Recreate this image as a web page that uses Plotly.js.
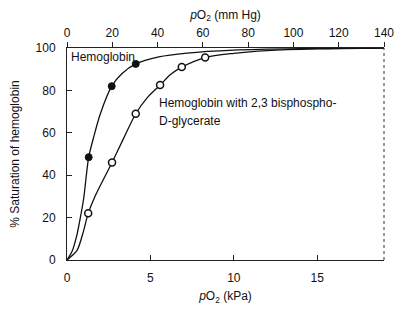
<!DOCTYPE html>
<html>
<head>
<meta charset="utf-8">
<script src="https://cdn.plot.ly/plotly-3.0.1.min.js"></script>
<style>html,body{margin:0;padding:0;background:#fff;}#chart{width:400px;height:310px;}</style>
</head>
<body>
<div id="chart"></div>
<script>
// Hemoglobin (no 2,3-BPG): measured points and traced curve (x in kPa, y in %)
const hbPointsX = [1.3, 2.68, 4.12];
const hbPointsY = [48.5, 82, 92.5];
const hbCurveX = [0, 0.3, 0.6, 0.8, 1.0, 1.3, 1.6, 2.0, 2.68, 3.3, 4.12, 5.5, 7.2, 10, 14, 19];
const hbCurveY = [0, 4, 12, 20, 29, 48.5, 58, 69, 82, 88, 92.5, 95.8, 97.6, 99, 99.7, 100];

// Hemoglobin with 2,3 bisphosphoglycerate
const bpgPointsX = [1.27, 2.7, 4.12, 5.58, 6.88, 8.28];
const bpgPointsY = [22, 46, 69, 82.5, 91, 95.5];
const bpgCurveX = [0, 0.6, 0.95, 1.27, 1.65, 2.7, 3.4, 4.12, 4.8, 5.58, 6.2, 6.88, 8.28, 10, 12, 15, 19];
const bpgCurveY = [0, 4.5, 12.5, 22, 29.5, 46, 57.5, 69, 76.5, 82.5, 87.5, 91, 95.5, 97.5, 98.8, 99.6, 100];

const kPaTicks = [0, 5, 10, 15];
const mmHgTicks = [0, 20, 40, 60, 80, 100, 120, 140];
const satTicks = [0, 20, 40, 60, 80, 100];

const labelHb = 'Hemoglobin';
const labelBpg1 = 'Hemoglobin with 2,3 bisphospho-';
const labelBpg2 = 'D-glycerate';

const fontFam = '"Liberation Sans", Arial, Helvetica, sans-serif';

const traces = [
  {x: hbCurveX, y: hbCurveY, mode: 'lines', line: {color: '#111', width: 1.3, shape: 'spline', smoothing: 0.8}, hoverinfo: 'skip'},
  {x: bpgCurveX, y: bpgCurveY, mode: 'lines', line: {color: '#111', width: 1.3, shape: 'spline', smoothing: 0.8}, hoverinfo: 'skip'},
  {x: hbPointsX, y: hbPointsY, mode: 'markers', marker: {color: '#111', size: 7, line: {color: '#111', width: 1}}},
  {x: bpgPointsX, y: bpgPointsY, mode: 'markers', marker: {color: '#fff', size: 7, line: {color: '#111', width: 1.5}}},
  {x: [0, 140], y: [0, 0], xaxis: 'x2', mode: 'markers', marker: {opacity: 0}, hoverinfo: 'skip'}
];

const layout = {
  width: 400, height: 310,
  margin: {l: 67, r: 16, t: 48, b: 50},
  paper_bgcolor: '#fff', plot_bgcolor: '#fff',
  showlegend: false,
  font: {family: fontFam, size: 12, color: '#111'},
  xaxis: {
    range: [0, 19], tickvals: kPaTicks, ticktext: kPaTicks.map(String),
    ticks: 'inside', ticklen: 5, tickcolor: '#222', ticklabelstandoff: 7,
    showline: true, linecolor: '#222', linewidth: 1,
    showgrid: false, zeroline: false,
    tickfont: {size: 12},
    title: {text: '<i>p</i>O<sub>2</sub> (kPa)', font: {size: 12}, standoff: 7}
  },
  xaxis2: {
    overlaying: 'x', side: 'top', range: [0, 140],
    tickvals: mmHgTicks, ticktext: mmHgTicks.map(String),
    ticks: 'outside', ticklen: 5, tickcolor: '#222',
    showline: true, linecolor: '#222', linewidth: 1,
    showgrid: false, zeroline: false,
    tickfont: {size: 12},
    title: {text: '<i>p</i>O<sub>2</sub> (mm Hg)', font: {size: 12}, standoff: 4}
  },
  yaxis: {
    range: [0, 100], tickvals: satTicks, ticktext: satTicks.map(String),
    ticks: 'inside', ticklen: 5, tickcolor: '#222', ticklabelstandoff: 8,
    showline: true, linecolor: '#222', linewidth: 1,
    showgrid: false, zeroline: false,
    tickfont: {size: 12},
    title: {text: '% Saturation of hemoglobin', font: {size: 12}, standoff: 13}
  },
  shapes: [
    {type: 'line', xref: 'paper', yref: 'paper', x0: 1, x1: 1, y0: 0, y1: 1,
     line: {color: '#333', width: 1, dash: 'dot'}}
  ],
  annotations: [
    {x: 0.12, y: 95.8, xref: 'x', yref: 'y', text: labelHb, showarrow: false, xanchor: 'left', yanchor: 'middle', font: {size: 12}},
    {x: 5.4, y: 74, xref: 'x', yref: 'y', text: labelBpg1, showarrow: false, xanchor: 'left', yanchor: 'middle', font: {size: 12}},
    {x: 5.4, y: 65.6, xref: 'x', yref: 'y', text: labelBpg2, showarrow: false, xanchor: 'left', yanchor: 'middle', font: {size: 12}}
  ]
};

Plotly.newPlot('chart', traces, layout, {staticPlot: true, displayModeBar: false});
</script>
</body>
</html>
